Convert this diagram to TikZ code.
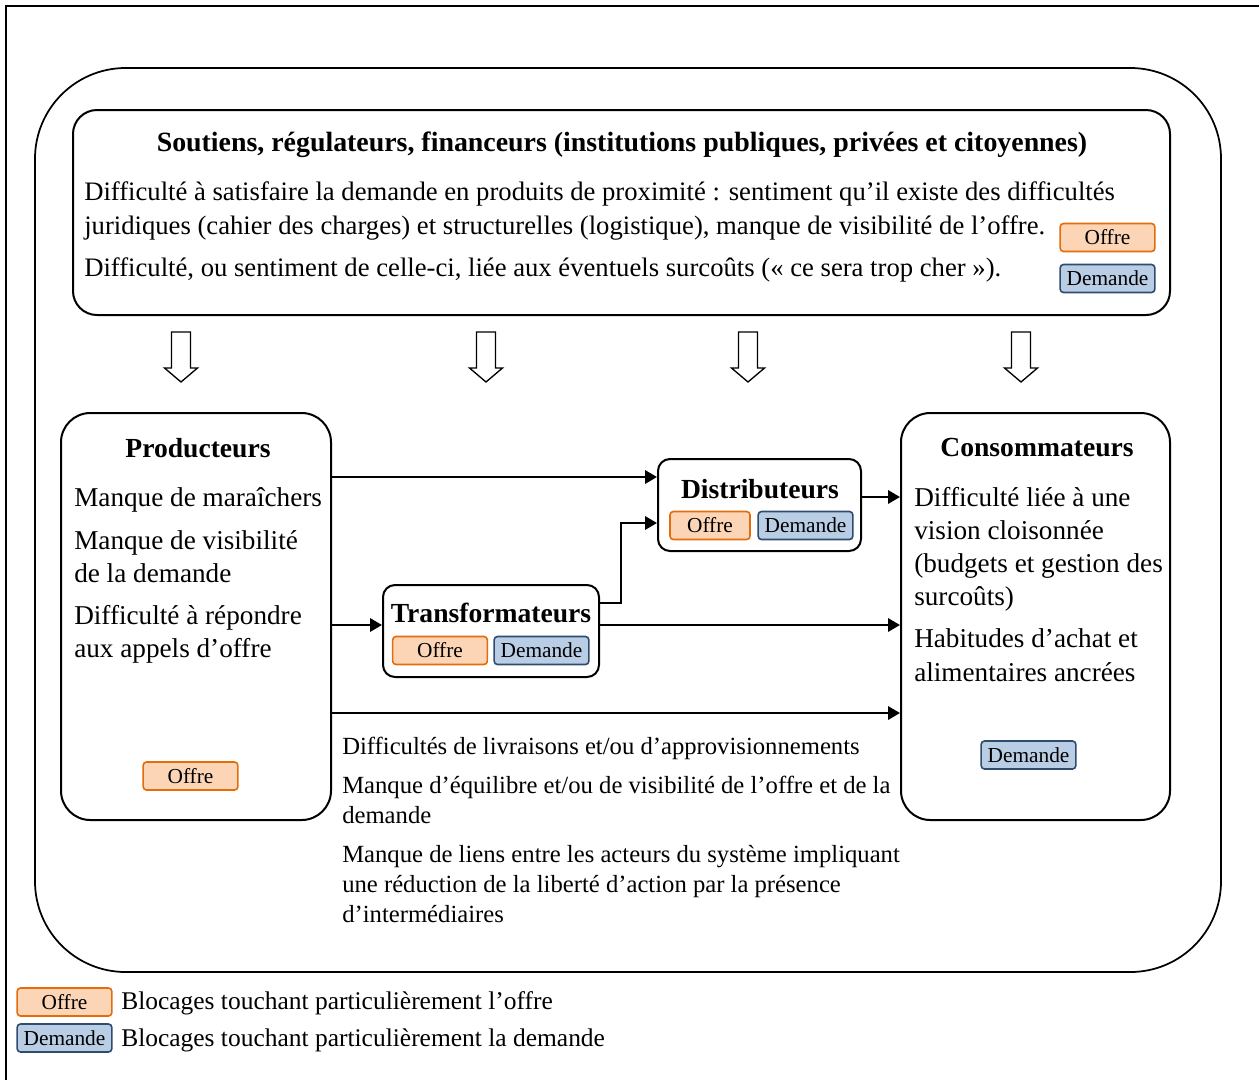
\documentclass[tikz,border=0pt]{standalone}
\usepackage{fontspec}
\setmainfont{Liberation Serif}
\usetikzlibrary{arrows.meta}
\definecolor{offrefill}{HTML}{FBD5B5}
\definecolor{offreline}{HTML}{E46C0A}
\definecolor{demfill}{HTML}{B9CDE5}
\definecolor{demline}{HTML}{2F4B6E}
\begin{document}
\begin{tikzpicture}[x=0.75pt,y=-0.75pt,
  tagbase/.style={rounded corners=2.5pt, line width=1.2pt, minimum width=71pt, minimum height=21pt, inner sep=0pt, font=\fontsize{16}{18}\selectfont},
  offretag/.style={tagbase, draw=offreline, fill=offrefill},
  demtag/.style={tagbase, draw=demline, fill=demfill},
  box/.style={draw, line width=1.5pt, rounded corners=18pt, inner sep=0pt},
  ttl/.style={font=\fontsize{20.7}{24}\selectfont\bfseries, inner sep=0pt},
  btxt/.style={font=\fontsize{20.4}{24}\selectfont, inner sep=0pt, anchor=base west},
  ttxt/.style={font=\fontsize{18.5}{22}\selectfont, inner sep=0pt, anchor=base west},
  toptxt/.style={font=\fontsize{20}{24}\selectfont, inner sep=0pt, anchor=base west},
  legtxt/.style={font=\fontsize{19.1}{23}\selectfont, inner sep=0pt, anchor=base west},
  conn/.style={line width=1.8pt, -{Triangle[length=9pt,width=10pt]}},
  hollow/.style={line width=1pt, line join=miter}
]
\useasboundingbox (0,0) rectangle (1259,1079);
% frame (top and left edges)
\draw[line width=2.2pt] (6,1085) -- (6,6) -- (1265,6);
% outer rounded region
\draw[line width=1.3pt, rounded corners=68pt] (35,68) rectangle (1221,972);

% top box
\node[box, minimum width=822.75pt, minimum height=153.75pt] (top) at (621.5,212.5) {};
\node[font=\fontsize{20.9}{24}\selectfont\bfseries, inner sep=0pt] (toptitle) at (622,145) {Soutiens, régulateurs, financeurs (institutions publiques, privées et citoyennes)};
\node[toptxt] (t1) at (84,200) {Difficulté à satisfaire la demande en produits de proximité : sentiment qu’il existe des difficultés};
\node[toptxt] (t2) at (84,234) {juridiques (cahier des charges) et structurelles (logistique), manque de visibilité de l’offre.};
\node[toptxt] (t3) at (84,276) {Difficulté, ou sentiment de celle-ci, liée aux éventuels surcoûts (« ce sera trop cher »).};
\node[offretag] (topoffre) at (1107.5,237.5) {Offre};
\node[demtag] (topdem) at (1107.5,278.5) {Demande};

% hollow down arrows
\foreach \cx in {181,486,748,1021}{
  \draw[hollow] (\cx-9.5,332) -- (\cx+9.5,332) -- (\cx+9.5,368) -- (\cx+16.5,368) -- (\cx,382) -- (\cx-16.5,368) -- (\cx-9.5,368) -- cycle;
}

% Producteurs
\node[box, rounded corners=22pt, minimum width=202.5pt, minimum height=305.25pt] (prod) at (196,616.5) {};
\node[ttl] (prodtitle) at (198,448) {Producteurs};
\node[btxt] (p1) at (74,506) {Manque de maraîchers};
\node[btxt] (p2) at (74,549) {Manque de visibilité};
\node[btxt] (p3) at (74,582) {de la demande};
\node[btxt] (p4) at (74,624) {Difficulté à répondre};
\node[btxt] (p5) at (74,657) {aux appels d’offre};
\node[offretag] (prodoffre) at (190.5,776) {Offre};

% Distributeurs
\node[box, rounded corners=9pt, minimum width=152.25pt, minimum height=69pt] (distrib) at (759.5,505) {};
\node[ttl] (distitle) at (760,489) {Distributeurs};
\node[offretag, minimum width=60pt] (disoffre) at (710,525.5) {Offre};
\node[demtag] (disdem) at (805.5,525.5) {Demande};

% Transformateurs
\node[box, rounded corners=9pt, minimum width=162pt, minimum height=69pt] (transf) at (491,631) {};
\node[ttl] (trtitle) at (491,613) {Transformateurs};
\node[offretag] (troffre) at (440,650.5) {Offre};
\node[demtag] (trdem) at (541.5,650.5) {Demande};

% Consommateurs
\node[box, rounded corners=22pt, minimum width=201.75pt, minimum height=305.25pt] (cons) at (1035.5,616.5) {};
\node[ttl] (constitle) at (1037,448) {Consommateurs};
\node[btxt] (c1) at (914,506) {Difficulté liée à une};
\node[btxt] (c2) at (914,539) {vision cloisonnée};
\node[btxt] (c3) at (914,572) {(budgets et gestion des};
\node[btxt] (c4) at (914,605) {surcoûts)};
\node[btxt] (c5) at (914,647) {Habitudes d’achat et};
\node[btxt] (c6) at (914,681) {alimentaires ancrées};
\node[demtag] (consdem) at (1028.5,755) {Demande};

% connectors
\coordinate (bend) at (621,523);
\draw[conn] (prod.east |- 0,477) -- (distrib.west |- 0,477);
\draw[conn] (distrib.east |- 0,497) -- (cons.west |- 0,497);
\draw[conn] (prod.east |- 0,625) -- (transf.west |- 0,625);
\draw[conn] (transf.east |- 0,603) -| (bend) -- (distrib.west |- bend);
\draw[conn] (transf.east |- 0,625) -- (cons.west |- 0,625);
\draw[conn] (prod.east |- 0,713) -- (cons.west |- 0,713);

% lower texts
\node[ttxt] (l1) at (342,754) {Difficultés de livraisons et/ou d’approvisionnements};
\node[ttxt] (l2) at (342,793) {Manque d’équilibre et/ou de visibilité de l’offre et de la};
\node[ttxt] (l3) at (342,823) {demande};
\node[ttxt] (l4) at (342,862) {Manque de liens entre les acteurs du système impliquant};
\node[ttxt] (l5) at (342,892) {une réduction de la liberté d’action par la présence};
\node[ttxt] (l6) at (342,922) {d’intermédiaires};

% legend
\node[offretag] (legoffre) at (64.5,1002) {Offre};
\node[demtag] (legdem) at (64.5,1038) {Demande};
\node[legtxt] (legt1) at (121,1009) {Blocages touchant particulièrement l’offre};
\node[legtxt] (legt2) at (121,1046) {Blocages touchant particulièrement la demande};
\end{tikzpicture}
\end{document}
